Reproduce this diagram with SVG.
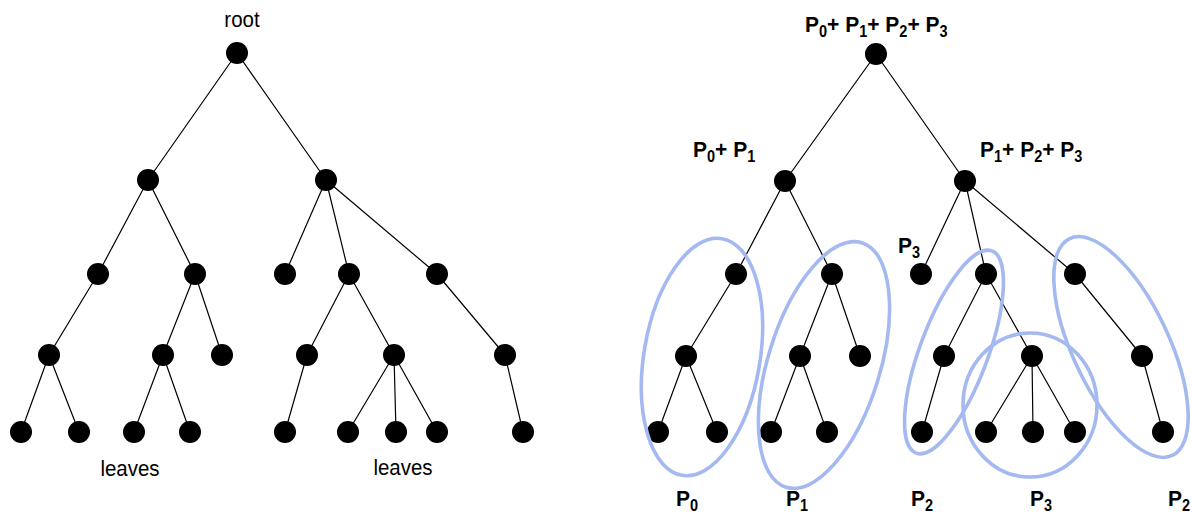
<svg xmlns="http://www.w3.org/2000/svg" width="1193" height="515" viewBox="0 0 1193 515">
<style>
.e{stroke:#000;stroke-width:1.2;fill:none}
.n{fill:#000}
.t{font-family:"Liberation Sans",Arial,sans-serif;font-size:20.5px;fill:#000}
.b{font-family:"Liberation Sans",Arial,sans-serif;font-size:21px;font-weight:bold;fill:#000}
.s{font-size:14.5px}
.g{fill:none;stroke:#a4b9f0;stroke-width:3.6}
</style>
<defs><circle id="dot" r="11"/></defs>
<rect width="1193" height="515" fill="#fff"/>
<g id="connectors">
<path class="e" d="M237,53L148,180M237,53L326,180M148,180L98,274M148,180L195,274M326,180L285,274M326,180L349,274M326,180L437,274M98,274L49,355M195,274L163,355M195,274L222,355M349,274L307,355M349,274L394,355M437,274L505,355M49,355L21,432M49,355L79,432M163,355L134,432M163,355L190,432M307,355L285,432M394,355L348,432M394,355L396,432M394,355L437,432M505,355L523,432"/>
<path class="e" d="M876,54L785,181M876,54L965,181M785,181L736,274M785,181L832,274M965,181L921,274M965,181L986,274M965,181L1075,274M736,274L686,356M832,274L800,356M832,274L860,356M986,274L944,356M986,274L1032,356M1075,274L1142,356M686,356L658,432M686,356L717,432M800,356L771,432M800,356L827,432M944,356L922,432M1032,356L986,432M1032,356L1033,432M1032,356L1075,432M1142,356L1163,432"/>
</g>
<g id="left-tree-nodes" class="n">
<use href="#dot" x="237" y="53"/>
<use href="#dot" x="148" y="180"/><use href="#dot" x="326" y="180"/>
<use href="#dot" x="98" y="274"/><use href="#dot" x="195" y="274"/><use href="#dot" x="285" y="274"/><use href="#dot" x="349" y="274"/><use href="#dot" x="437" y="274"/>
<use href="#dot" x="49" y="355"/><use href="#dot" x="163" y="355"/><use href="#dot" x="222" y="355"/><use href="#dot" x="307" y="355"/><use href="#dot" x="394" y="355"/><use href="#dot" x="505" y="355"/>
<use href="#dot" x="21" y="432"/><use href="#dot" x="79" y="432"/><use href="#dot" x="134" y="432"/><use href="#dot" x="190" y="432"/><use href="#dot" x="285" y="432"/><use href="#dot" x="348" y="432"/><use href="#dot" x="396" y="432"/><use href="#dot" x="437" y="432"/><use href="#dot" x="523" y="432"/>
</g>
<g id="right-tree-nodes" class="n">
<use href="#dot" x="876" y="54"/>
<use href="#dot" x="785" y="181"/><use href="#dot" x="965" y="181"/>
<use href="#dot" x="736" y="274"/><use href="#dot" x="832" y="274"/><use href="#dot" x="921" y="274"/><use href="#dot" x="986" y="274"/><use href="#dot" x="1075" y="274"/>
<use href="#dot" x="686" y="356"/><use href="#dot" x="800" y="356"/><use href="#dot" x="860" y="356"/><use href="#dot" x="944" y="356"/><use href="#dot" x="1032" y="356"/><use href="#dot" x="1142" y="356"/>
<use href="#dot" x="658" y="432"/><use href="#dot" x="717" y="432"/><use href="#dot" x="771" y="432"/><use href="#dot" x="827" y="432"/><use href="#dot" x="922" y="432"/><use href="#dot" x="986" y="432"/><use href="#dot" x="1033" y="432"/><use href="#dot" x="1075" y="432"/><use href="#dot" x="1163" y="432"/>
</g>
<g id="partitions">
<ellipse class="g" cx="702" cy="357" rx="58" ry="120" transform="rotate(9.6 702 357)"/>
<ellipse class="g" cx="824" cy="365" rx="56" ry="128" transform="rotate(17.2 824 365)"/>
<ellipse class="g" cx="954" cy="352" rx="34" ry="108" transform="rotate(20.5 954 352)"/>
<ellipse class="g" cx="1030" cy="405" rx="67" ry="72"/>
<ellipse class="g" cx="1121" cy="347" rx="48" ry="120" transform="rotate(-25.3 1121 347)"/>
</g>
<g id="labels">
<text class="t" transform="translate(242,27) scale(1,1.12)" text-anchor="middle">root</text>
<text class="t" transform="translate(130,476) scale(1,1.12)" text-anchor="middle">leaves</text>
<text class="t" transform="translate(403,475) scale(1,1.12)" text-anchor="middle">leaves</text>
<text class="b" transform="translate(805,32) scale(1,1.08)">P<tspan class="s" dy="5">0</tspan><tspan dy="-5">+ P</tspan><tspan class="s" dy="5">1</tspan><tspan dy="-5">+ P</tspan><tspan class="s" dy="5">2</tspan><tspan dy="-5">+ P</tspan><tspan class="s" dy="5">3</tspan></text>
<text class="b" transform="translate(693,157) scale(1,1.08)">P<tspan class="s" dy="5">0</tspan><tspan dy="-5">+ P</tspan><tspan class="s" dy="5">1</tspan></text>
<text class="b" transform="translate(980,157) scale(1,1.08)">P<tspan class="s" dy="5">1</tspan><tspan dy="-5">+ P</tspan><tspan class="s" dy="5">2</tspan><tspan dy="-5">+ P</tspan><tspan class="s" dy="5">3</tspan></text>
<text class="b" transform="translate(898,253) scale(1,1.08)">P<tspan class="s" dy="5">3</tspan></text>
<text class="b" transform="translate(676,506) scale(1,1.08)">P<tspan class="s" dy="5">0</tspan></text>
<text class="b" transform="translate(786,506) scale(1,1.08)">P<tspan class="s" dy="5">1</tspan></text>
<text class="b" transform="translate(911,506) scale(1,1.08)">P<tspan class="s" dy="5">2</tspan></text>
<text class="b" transform="translate(1030,506) scale(1,1.08)">P<tspan class="s" dy="5">3</tspan></text>
<text class="b" transform="translate(1168,506) scale(1,1.08)">P<tspan class="s" dy="5">2</tspan></text>
</g>
</svg>
